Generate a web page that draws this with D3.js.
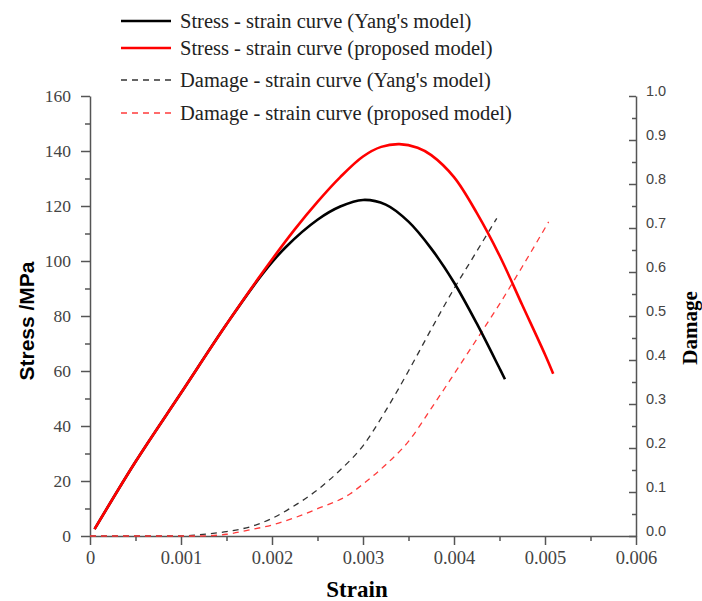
<!DOCTYPE html>
<html>
<head>
<meta charset="utf-8">
<script src="https://cdn.jsdelivr.net/npm/d3@7"></script>
<style>
  body { margin: 0; background: #fff; }
  svg { display: block; }
</style>
</head>
<body>
<div id="chart"></div>
<script>
/* Stress / damage vs strain for Yang's model and the proposed model.
   Stress on the left axis (MPa), damage on the right axis (0-1). */

// stress-strain, Yang's model
const STRESS_YANG_STRAIN = [0.00005, 0.0005, 0.001, 0.0015, 0.0019, 0.00215, 0.0025, 0.00275, 0.003, 0.00325, 0.0035, 0.00375, 0.004, 0.00425, 0.0045, 0.00456];
const STRESS_YANG        = [2.5, 27, 52, 77, 95.5, 105, 115, 119.8, 122.2, 120.5, 114.3, 104.5, 92.2, 77.3, 61, 57];

// stress-strain, proposed model
const STRESS_PROP_STRAIN = [0.00005, 0.0005, 0.001, 0.0015, 0.0019, 0.00225, 0.0025, 0.00275, 0.003, 0.0032, 0.0034, 0.0036, 0.00375, 0.004, 0.00425, 0.0045, 0.00475, 0.005, 0.00509];
const STRESS_PROP        = [2.5, 27, 52, 77, 96, 111.5, 121.5, 130.5, 138, 141.5, 142.5, 141.2, 138.5, 130.5, 117.5, 102, 84, 66, 59];

// damage-strain, Yang's model
const DAMAGE_YANG_STRAIN = [0, 0.001, 0.0012, 0.0015, 0.00176, 0.002, 0.0022, 0.0025, 0.00275, 0.003, 0.00325, 0.0035, 0.00375, 0.004, 0.0042, 0.00447];
const DAMAGE_YANG        = [0, 0, 0.003, 0.01, 0.021, 0.04, 0.063, 0.105, 0.15, 0.205, 0.285, 0.375, 0.47, 0.562, 0.63, 0.722];

// damage-strain, proposed model
const DAMAGE_PROP_STRAIN = [0, 0.0012, 0.0015, 0.00176, 0.002, 0.0025, 0.00286, 0.003, 0.00325, 0.0035, 0.00375, 0.004, 0.00425, 0.0045, 0.00475, 0.00504];
const DAMAGE_PROP        = [0, 0, 0.004, 0.014, 0.025, 0.062, 0.096, 0.118, 0.162, 0.215, 0.29, 0.368, 0.447, 0.527, 0.612, 0.714];

const LEGEND = [
  { label: "Stress - strain curve (Yang's model)",    color: "#000",    dash: null,  width: 2.6 },
  { label: "Stress - strain curve (proposed model)",  color: "#ff0000", dash: null,  width: 2.6 },
  { label: "Damage - strain curve (Yang's model)",    color: "#333",    dash: "6,5", width: 1.3 },
  { label: "Damage - strain curve (proposed model)",  color: "#ff3b3b", dash: "6,5", width: 1.3 }
];

const W = 702, H = 601;
const m = { left: 90, right: 66, top: 96, bottom: 65 };
const axisColor = "#555";

const svg = d3.select("#chart").append("svg")
    .attr("width", W).attr("height", H);

const x  = d3.scaleLinear().domain([0, 0.006]).range([m.left, W - m.right]);
const yS = d3.scaleLinear().domain([0, 160]).range([H - m.bottom, m.top]);
const yD = d3.scaleLinear().domain([0, 1]).range([H - m.bottom, m.top]);

const serif = "'Liberation Serif', 'Times New Roman', serif";
const sans  = "'Liberation Sans', Arial, sans-serif";

// style a d3 axis group: grey lines, no domain caps
function styleAxis(g, font, size) {
  g.select(".domain").attr("stroke", axisColor).attr("stroke-width", 1.5);
  g.selectAll(".tick line").attr("stroke", axisColor).attr("stroke-width", 1.5);
  g.selectAll(".tick text").attr("fill", "#444")
      .style("font-family", font).style("font-size", size + "px");
}

// minor ticks first (no labels), then majors on top
const xMinor = svg.append("g").attr("transform", `translate(0,${H - m.bottom})`)
    .call(d3.axisBottom(x).tickValues(d3.range(0.0005, 0.006, 0.001)).tickSize(5).tickFormat(""));
styleAxis(xMinor, serif, 18);
xMinor.select(".domain").remove();

const xAxis = svg.append("g").attr("transform", `translate(0,${H - m.bottom})`)
    .call(d3.axisBottom(x).tickValues(d3.range(0, 0.0061, 0.001))
      .tickSize(9).tickSizeOuter(0).tickPadding(6)
      .tickFormat(d => d === 0 ? "0" : d3.format(".3f")(d)));
styleAxis(xAxis, serif, 18.5);

const ySMinor = svg.append("g").attr("transform", `translate(${m.left},0)`)
    .call(d3.axisLeft(yS).tickValues(d3.range(10, 160, 20)).tickSize(5).tickFormat(""));
styleAxis(ySMinor, serif, 17);
ySMinor.select(".domain").remove();

const ySAxis = svg.append("g").attr("transform", `translate(${m.left},0)`)
    .call(d3.axisLeft(yS).tickValues(d3.range(0, 161, 20)).tickSize(9).tickSizeOuter(0).tickPadding(10));
styleAxis(ySAxis, serif, 17.5);

// right axis: ticks point inward (to the left), labels outside
const yDMinor = svg.append("g").attr("transform", `translate(${W - m.right},0)`)
    .call(d3.axisRight(yD).tickValues(d3.range(0.05, 1, 0.1)).tickSize(-4).tickFormat(""));
styleAxis(yDMinor, sans, 14);
yDMinor.select(".domain").remove();

const yDAxis = svg.append("g").attr("transform", `translate(${W - m.right},0)`)
    .call(d3.axisRight(yD).tickValues(d3.range(0, 1.01, 0.1)).tickSize(-7).tickSizeOuter(0)
      .tickFormat(d3.format(".1f")));
styleAxis(yDAxis, sans, 14.5);
yDAxis.selectAll(".tick text").attr("x", 10).attr("dy", "-0.05em");

// axis titles
svg.append("text").attr("x", 357).attr("y", 597).attr("text-anchor", "middle")
    .style("font-family", serif).style("font-weight", "bold").style("font-size", "23px")
    .text("Strain");

svg.append("text").attr("transform", "translate(34,321) rotate(-90)").attr("text-anchor", "middle")
    .style("font-family", sans).style("font-weight", "bold").style("font-size", "21px")
    .text("Stress /MPa");

svg.append("text").attr("transform", "translate(697,328) rotate(-90)").attr("text-anchor", "middle")
    .style("font-family", serif).style("font-weight", "bold").style("font-size", "21px")
    .text("Damage");

// curves
const zip = (xs, ys) => xs.map((v, i) => [v, ys[i]]);
const lineS = d3.line().x(d => x(d[0])).y(d => yS(d[1])).curve(d3.curveCatmullRom.alpha(0.5));
const lineD = d3.line().x(d => x(d[0])).y(d => yD(d[1])).curve(d3.curveMonotoneX);

const series = [
  { pts: zip(DAMAGE_YANG_STRAIN, DAMAGE_YANG), line: lineD, st: LEGEND[2] },
  { pts: zip(DAMAGE_PROP_STRAIN, DAMAGE_PROP), line: lineD, st: LEGEND[3] },
  { pts: zip(STRESS_YANG_STRAIN, STRESS_YANG), line: lineS, st: LEGEND[0] },
  { pts: zip(STRESS_PROP_STRAIN, STRESS_PROP), line: lineS, st: LEGEND[1] }
];

svg.selectAll("path.curve").data(series).join("path")
    .attr("class", "curve")
    .attr("d", d => d.line(d.pts))
    .attr("fill", "none")
    .attr("stroke", d => d.st.color)
    .attr("stroke-width", d => d.st.width)
    .attr("stroke-dasharray", d => d.st.dash);

// legend in the top-left margin
const legendY = [21, 48, 80, 113];
const leg = svg.selectAll("g.leg").data(LEGEND).join("g")
    .attr("class", "leg")
    .attr("transform", (d, i) => `translate(121,${legendY[i]})`);

leg.append("line").attr("x1", 0).attr("x2", 50)
    .attr("stroke", d => d.color)
    .attr("stroke-width", d => d.dash ? 1.3 : 2.6)
    .attr("stroke-dasharray", d => d.dash);

leg.append("text").attr("x", 59).attr("dy", "0.32em")
    .style("font-family", serif).style("font-size", "20.5px").attr("fill", "#222")
    .text(d => d.label);
</script>
</body>
</html>
